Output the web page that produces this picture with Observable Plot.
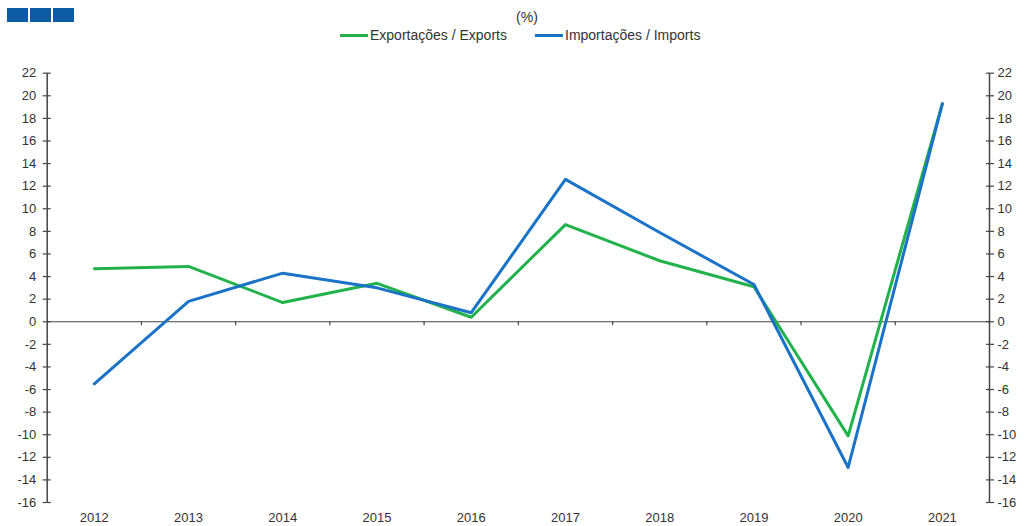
<!DOCTYPE html>
<html>
<head>
<meta charset="utf-8">
<script src="https://cdn.jsdelivr.net/npm/d3@7"></script>
<script src="https://cdn.jsdelivr.net/npm/@observablehq/plot@0.6"></script>
<style>
  html, body { margin: 0; padding: 0; background: #fff; }
  body { width: 1025px; height: 526px; overflow: hidden; font-family: "Liberation Sans", Arial, sans-serif; }
  #header { position: relative; width: 1025px; height: 50px; }
  .sq { position: absolute; top: 8px; width: 21px; height: 14px; background: #0d5ba3; }
  #pct { position: absolute; top: 9px; left: 0; width: 1054px; text-align: center; font-size: 14px; color: #333; }
  .leg { position: absolute; top: 27px; font-size: 14px; color: #333; white-space: nowrap; }
  .leg span.sw { display: inline-block; width: 28px; height: 3px; vertical-align: middle; margin-right: 2px; position: relative; top: -1px; }
  #chart svg { display: block; }
</style>
</head>
<body>
<div id="header">
  <div class="sq" style="left:7px"></div>
  <div class="sq" style="left:30px"></div>
  <div class="sq" style="left:53px"></div>
  <div id="pct">(%)</div>
  <div class="leg" style="left:340px"><span class="sw" style="background:#22b24c"></span>Exportações / Exports</div>
  <div class="leg" style="left:535px"><span class="sw" style="background:#1a73c6"></span>Importações / Imports</div>
</div>
<div id="chart"></div>
<script>
const years = [2012, 2013, 2014, 2015, 2016, 2017, 2018, 2019, 2020, 2021];
const exportsPct = [4.7, 4.9, 1.7, 3.4, 0.4, 8.6, 5.4, 3.1, -10.1, 19.3];
const importsPct = [-5.5, 1.8, 4.3, 3.0, 0.8, 12.6, 7.9, 3.3, -12.9, 19.3];
const yTicks = [-16, -14, -12, -10, -8, -6, -4, -2, 0, 2, 4, 6, 8, 10, 12, 14, 16, 18, 20, 22];
const seriesNames = ["Exportações / Exports", "Importações / Imports"];
const seriesColors = ["#22b24c", "#1a73c6"];

const expData = years.map((y, i) => ({year: y, value: exportsPct[i]}));
const impData = years.map((y, i) => ({year: y, value: importsPct[i]}));
const xMin = years[0] - 0.5, xMax = years[years.length - 1] + 0.5;
const boundaries = years.slice(0, -1).map(y => y + 0.5);
const axisColor = "#444";
const fmt = d => String(d);

const chart = Plot.plot({
  width: 1025,
  height: 476,
  marginTop: 22.7,
  marginBottom: 24,
  marginLeft: 46.7,
  marginRight: 36,
  style: {fontFamily: "'Liberation Sans', Arial, sans-serif", fontSize: "13px", color: "#333", background: "#fff"},
  x: {domain: [xMin, xMax]},
  y: {domain: [-16, 22]},
  marks: [
    Plot.ruleY([0], {stroke: axisColor, strokeWidth: 1.2}),
    Plot.ruleX(boundaries, {y1: 0, y2: -0.35, stroke: axisColor, strokeWidth: 1.2}),
    Plot.ruleX([xMin, xMax], {y1: -16, y2: 22, stroke: axisColor, strokeWidth: 1.5}),
    Plot.axisY({anchor: "left", ticks: yTicks, tickSize: 4, tickPadding: 7, tickFormat: fmt, stroke: axisColor, strokeWidth: 1.2, fill: "#333", label: null, fontSize: 13}),
    Plot.axisY({anchor: "left", ticks: yTicks, tickSize: -4, tickFormat: () => "", stroke: axisColor, strokeWidth: 1.2, label: null}),
    Plot.axisY({anchor: "right", ticks: yTicks, tickSize: 4, tickPadding: 4, tickFormat: fmt, stroke: axisColor, strokeWidth: 1.2, fill: "#333", label: null, fontSize: 13}),
    Plot.axisY({anchor: "right", ticks: yTicks, tickSize: -4, tickFormat: () => "", stroke: axisColor, strokeWidth: 1.2, label: null}),
    Plot.axisX({anchor: "bottom", ticks: years, tickSize: 0, tickPadding: 10, tickFormat: fmt, fill: "#333", label: null, fontSize: 13}),
    Plot.line(expData, {x: "year", y: "value", stroke: seriesColors[0], strokeWidth: 3}),
    Plot.line(impData, {x: "year", y: "value", stroke: seriesColors[1], strokeWidth: 3})
  ]
});
document.getElementById("chart").appendChild(chart);
</script>
</body>
</html>
